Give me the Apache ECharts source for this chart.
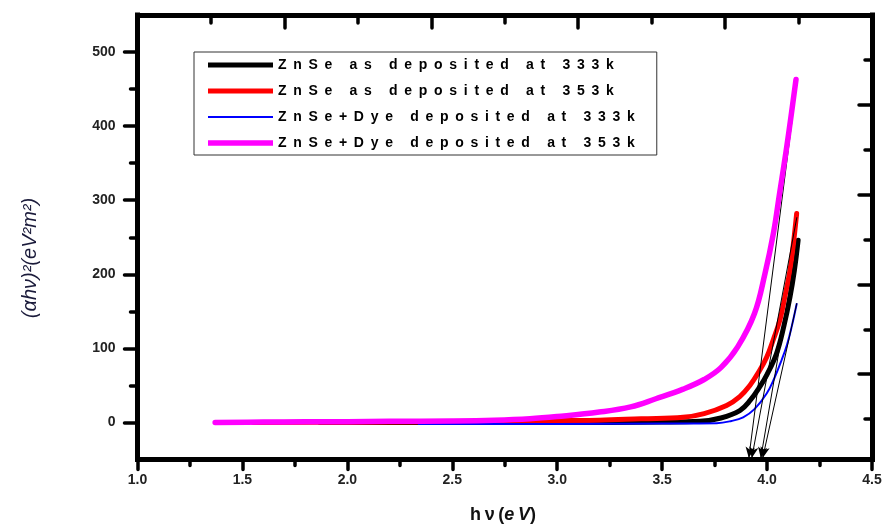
<!DOCTYPE html>
<html><head><meta charset="utf-8">
<script src="https://cdn.jsdelivr.net/npm/echarts@6/dist/echarts.min.js"></script>
<style>html,body{margin:0;padding:0;background:#fff}#c{width:885px;height:528px}</style>
</head><body><div id="c"></div>
<script>
const seriesNames = ['ZnSe as deposited at 333k','ZnSe as deposited at 353k','ZnSe+Dye deposited at 333k','ZnSe+Dye deposited at 353k'];
const seriesColors = ['#000000','#ff0000','#0000ff','#ff00ff'];
const seriesWidths = [5,5,2,5.5];

const blackX = [1.87,2.5,3.0,3.5,3.68,3.78,3.87,3.92,3.965,4.0,4.045,4.08,4.109,4.13,4.148];
const blackY = [0,0,0,0.5,1.5,6,16,30,48,65,93,130,169,205,246];

const redX = [1.55,2.0,2.5,2.8,3.0,3.2,3.4,3.6,3.7,3.807,3.87,3.918,3.96,3.998,4.03,4.061,4.085,4.109,4.125,4.141];
const redY = [0,0.3,1,1.5,2.5,3,5,7,12,23,35,50,68,88,112,138,170,205,240,282];

const blueX = [2.34,3.0,3.5,3.76,3.83,3.886,3.94,3.998,4.035,4.069,4.095,4.117,4.141];
const blueY = [-2,-2,-1.5,-1,2,7,18,39,60,84,105,129,160];

const magentaX = [1.37,1.6,1.8,2.0,2.2,2.5,2.7,2.87,3.0,3.2,3.35,3.47,3.6,3.7,3.78,3.86,3.94,3.99,4.03,4.06,4.09,4.115,4.138];
const magentaY = [0,0.5,0.8,1,1.5,2,3,5,8,14,21,32,45,58,74,102,147,201,255,310,365,415,463];

// tangent (extrapolation) lines: start on curve, arrow end on x axis
const tangentStarts = [[4.147,246],[4.142,277],[4.142,161],[4.118,405]];
const tangentEnds   = [[3.970,-48],[3.927,-48],[3.979,-48],[3.913,-48]];

const xTickInterval = 0.5;
const yMajorTicks = [0,100,200,300,400,500];
const yMinorTicks = [50,150,250,350,450];

const yAxisTitle = '(αhν)²(eV²m²)';

const allX = [blackX, redX, blueX, magentaX];
const allY = [blackY, redY, blueY, magentaY];

const FONT = '"Liberation Sans", Arial, sans-serif';
const chart = echarts.init(document.getElementById('c'), null, {renderer:'canvas'});

function legendIcon(w){
  const t = (14 - w)/2, b = t + w;
  return 'path://M0,0L0.01,0ZM0,' + t + 'L65,' + t + 'L65,' + b + 'L0,' + b + 'ZM0,14L0.01,14Z';
}

const series = seriesNames.map((n,i)=>({
  name: n, type:'line', xAxisIndex:0, yAxisIndex:0,
  data: allX[i].map((x,k)=>[x, allY[i][k]]),
  showSymbol:false, symbol:'none', smooth:0.4,
  lineStyle:{color:seriesColors[i], width:seriesWidths[i], cap:'round', join:'round'},
  itemStyle:{color:seriesColors[i]},
  emphasis:{disabled:true},
  z: 2+i,
  markLine:{
    silent:true, symbol:['none','arrow'], symbolSize:[7,11],
    lineStyle:{color:'#000', width:1, type:'solid'},
    label:{show:false}, emphasis:{disabled:true},
    data:[[{coord:tangentStarts[i]},{coord:tangentEnds[i]}]]
  }
}));

const axisLineStyle = {color:'#000', width:5, cap:'square'};
const tickStyle = {color:'#000', width:3.5, cap:'round'};

const option = {
  animation:false,
  backgroundColor:'#fff',
  grid:{left:137.5, right:13, top:15, bottom:68.5, containLabel:false},
  legend:{
    orient:'vertical', left:194, top:52,
    padding:[6,22,5,14], itemGap:12, itemWidth:65, itemHeight:14,
    borderColor:'#333', borderWidth:1, backgroundColor:'#fff',
    data: seriesNames.map((n,i)=>({name:n, icon:legendIcon(seriesWidths[i]), itemStyle:{color:seriesColors[i]}})),
    formatter: n => n.split('').join('\u2009 '),
    textStyle:{fontFamily:FONT, fontWeight:'bold', fontSize:14, color:'#000'}
  },
  xAxis:[
    {type:'value', min:1.0, max:4.5, interval:xTickInterval, position:'bottom',
     axisLine:{onZero:false, lineStyle:axisLineStyle},
     axisTick:{inside:false, length:10, lineStyle:tickStyle},
     minorTick:{show:true, splitNumber:2, length:6, lineStyle:tickStyle},
     splitLine:{show:false},
     axisLabel:{margin:14, formatter:v=>v.toFixed(1), fontFamily:FONT, fontWeight:'bold', fontSize:14, color:'#222'}
    },
    {type:'value', min:0, max:10, interval:2, position:'top',
     axisLine:{onZero:false, lineStyle:axisLineStyle},
     axisTick:{inside:true, length:13, lineStyle:tickStyle},
     minorTick:{show:true, splitNumber:2, length:8, lineStyle:tickStyle},
     splitLine:{show:false}, axisLabel:{show:false}
    }
  ],
  yAxis:[
    {type:'value', min:-50, max:550, position:'left',
     axisLine:{onZero:false, lineStyle:axisLineStyle},
     axisTick:{inside:false, length:13, customValues:yMajorTicks, lineStyle:tickStyle},
     splitLine:{show:false},
     axisLabel:{margin:22, customValues:yMajorTicks, formatter:v=>String(v), fontFamily:FONT, fontWeight:'bold', fontSize:14, color:'#222'}
    },
    {type:'value', min:-50, max:550, position:'left',
     axisLine:{show:false, onZero:false},
     axisTick:{inside:false, length:7, customValues:yMinorTicks, lineStyle:tickStyle},
     splitLine:{show:false},
     axisLabel:{show:false, customValues:yMinorTicks}
    },
    {type:'value', min:0, max:9.9, interval:2, inverse:true, position:'right',
     axisLine:{onZero:false, lineStyle:axisLineStyle},
     axisTick:{inside:true, length:13, lineStyle:tickStyle},
     minorTick:{show:true, splitNumber:2, length:7, lineStyle:tickStyle},
     splitLine:{show:false}, axisLabel:{show:false}
    }
  ],
  graphic:[
    {type:'text', x:30, y:258, rotation:Math.PI/2,
     style:{text:yAxisTitle, fill:'#1a1a3a', align:'center', verticalAlign:'middle',
            font:'italic 20px "Liberation Sans", Arial, sans-serif'}},
    {type:'text', x:503, y:515,
     style:{text:'{a|h\u2009ν\u2009(}{b|e\u2009V}{a|)}', align:'center', verticalAlign:'middle',
            rich:{
              a:{fontFamily:FONT, fontWeight:'bold', fontSize:18, fill:'#111'},
              b:{fontFamily:FONT, fontWeight:'bold', fontStyle:'italic', fontSize:18, fill:'#111'}
            }}}
  ],
  series: series
};
chart.setOption(option);
</script>
</body></html>
